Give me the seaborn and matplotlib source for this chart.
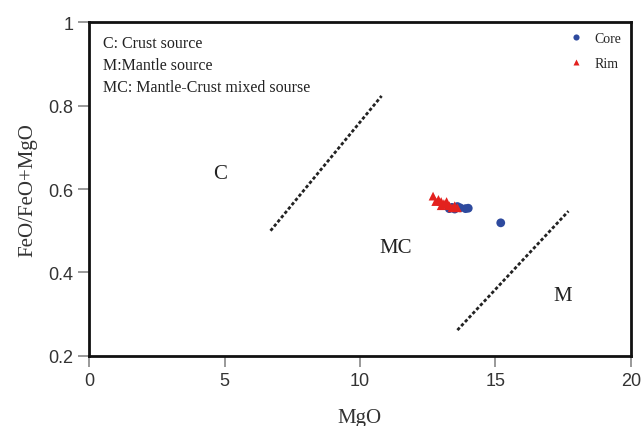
import pandas as pd
import numpy as np
import matplotlib
matplotlib.use("Agg")
import matplotlib.pyplot as plt
import seaborn as sns

# Core and rim analyses (MgO vs FeO/(FeO+MgO))
core_mgo = [13.3, 13.5, 13.7, 13.9, 14.0, 13.6, 13.4, 15.2]
core_ratio = [0.553, 0.552, 0.555, 0.553, 0.554, 0.558, 0.556, 0.519]
rim_mgo = [12.7, 12.9, 13.0, 13.1, 13.2, 13.3, 13.0, 13.4, 13.5, 12.8, 13.6, 13.2]
rim_ratio = [0.583, 0.575, 0.570, 0.565, 0.570, 0.560, 0.560, 0.555, 0.560, 0.570, 0.555, 0.563]

# Discrimination boundaries
line1_x = [6.7, 10.8]
line1_y = [0.50, 0.823]
line2_x = [13.6, 17.7]
line2_y = [0.262, 0.547]

df = pd.DataFrame({
    "MgO": core_mgo + rim_mgo,
    "ratio": core_ratio + rim_ratio,
    "Type": ["Core"] * len(core_mgo) + ["Rim"] * len(rim_mgo),
})

sns.set_style("white")
fig = plt.figure(figsize=(6.41, 4.27), dpi=100)
ax = fig.add_axes([0.139, 0.164, 0.845, 0.782])

sns.scatterplot(data=df, x="MgO", y="ratio", hue="Type", style="Type",
                markers={"Core": "o", "Rim": "^"},
                palette={"Core": "#2e4a9e", "Rim": "#e3211e"},
                s=40, edgecolor="none", ax=ax)

ax.plot(line1_x, line1_y, color="#222222", lw=2, linestyle=(0, (1.2, 0.8)))
ax.plot(line2_x, line2_y, color="#222222", lw=2, linestyle=(0, (1.2, 0.8)))

ax.set_xlim(0, 20)
ax.set_ylim(0.2, 1.0)
ax.set_xticks([0, 5, 10, 15, 20])
ax.set_yticks([0.2, 0.4, 0.6, 0.8, 1.0])
ax.set_yticklabels(["0.2", "0.4", "0.6", "0.8", "1"])
ax.tick_params(axis="both", direction="out", length=8, width=1.2, color="#888888",
               labelsize=13, left=True, bottom=True, labelcolor="#333333")
for lab in ax.get_xticklabels() + ax.get_yticklabels():
    lab.set_family("Liberation Sans")
for sp in ax.spines.values():
    sp.set_color("#111111")
    sp.set_linewidth(2)

serif = "Liberation Serif"
ax.set_xlabel("MgO", fontsize=15, family=serif, color="#333333", labelpad=14)
ax.set_ylabel("FeO/FeO+MgO", fontsize=15, family=serif, color="#333333", labelpad=8)

ax.text(0.025, 0.96, "C: Crust source", transform=ax.transAxes, fontsize=11.5,
        family=serif, va="top", color="#222222")
ax.text(0.025, 0.895, "M:Mantle source", transform=ax.transAxes, fontsize=11.5,
        family=serif, va="top", color="#222222")
ax.text(0.025, 0.83, "MC: Mantle-Crust mixed sourse", transform=ax.transAxes, fontsize=11.5,
        family=serif, va="top", color="#222222")

ax.text(4.85, 0.636, "C", fontsize=15, family=serif, ha="center", va="center", color="#222222")
ax.text(11.3, 0.461, "MC", fontsize=15, family=serif, ha="center", va="center", color="#222222")
ax.text(17.5, 0.346, "M", fontsize=15, family=serif, ha="center", va="center", color="#222222")

leg = ax.legend(loc="upper right", frameon=False, prop={"family": serif, "size": 10},
                handletextpad=0.3, labelspacing=0.9, borderaxespad=0.3, markerscale=0.7)

fig.savefig("out.png", dpi=100)
